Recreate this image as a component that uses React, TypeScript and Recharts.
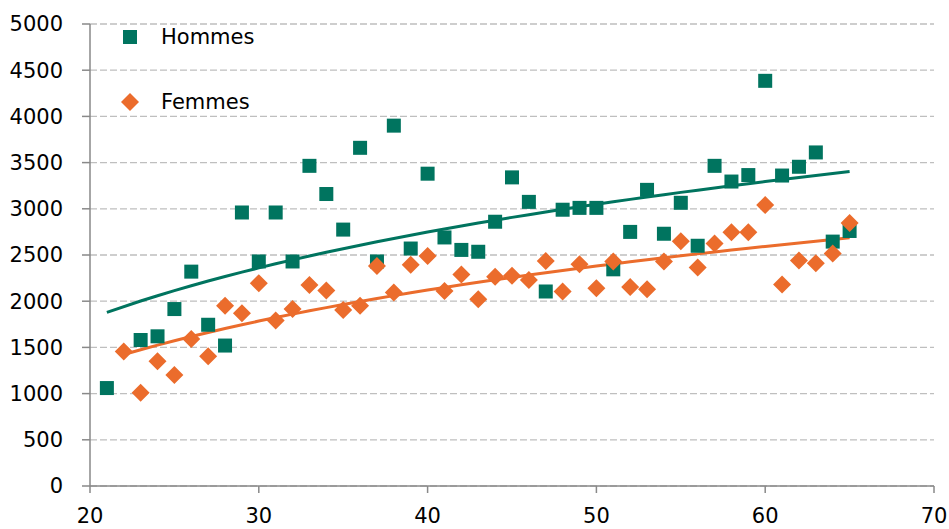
import { ScatterChart, Scatter, XAxis, YAxis, CartesianGrid } from 'recharts';

const AGES_H = [21, 23, 24, 25, 26, 27, 28, 29, 30, 31, 32, 33, 34, 35, 36, 37, 38, 39, 40, 41, 42, 43, 44, 45, 46, 47, 48, 49, 50, 51, 52, 53, 54, 55, 56, 57, 58, 59, 60, 61, 62, 63, 64, 65];
const HOMMES = [1060, 1580, 1620, 1915, 2320, 1745, 1520, 2960, 2430, 2960, 2430, 3465, 3160, 2775, 3660, 2430, 3900, 2570, 3380, 2690, 2555, 2535, 2860, 3340, 3075, 2105, 2990, 3010, 3010, 2345, 2750, 3205, 2730, 3065, 2600, 3465, 3295, 3365, 4385, 3360, 3455, 3610, 2645, 2760];

const AGES_F = [22, 23, 24, 25, 26, 27, 28, 29, 30, 31, 32, 33, 34, 35, 36, 37, 38, 39, 40, 41, 42, 43, 44, 45, 46, 47, 48, 49, 50, 51, 52, 53, 54, 55, 56, 57, 58, 59, 60, 61, 62, 63, 64, 65];
const FEMMES = [1455, 1010, 1350, 1200, 1590, 1405, 1950, 1870, 2195, 1790, 1915, 2175, 2115, 1905, 1950, 2380, 2095, 2395, 2490, 2110, 2290, 2020, 2265, 2275, 2230, 2435, 2105, 2400, 2140, 2430, 2155, 2130, 2430, 2650, 2365, 2625, 2745, 2745, 3040, 2180, 2440, 2410, 2515, 2845];

const X_TICKS = [20, 30, 40, 50, 60, 70];
const Y_TICKS = [0, 500, 1000, 1500, 2000, 2500, 3000, 3500, 4000, 4500, 5000];

const TEAL = '#00745F';
const ORANGE = '#EB6C2C';
const FONT = 'DejaVu Sans';

// logarithmic trend (least squares on ln x), like the spreadsheet trendline
function logTrend(xs: number[], ys: number[]) {
  const lx = xs.map(Math.log);
  const n = xs.length;
  const mx = lx.reduce((s, v) => s + v, 0) / n;
  const my = ys.reduce((s, v) => s + v, 0) / n;
  let sxy = 0;
  let sxx = 0;
  lx.forEach((v, i) => {
    sxy += (v - mx) * (ys[i] - my);
    sxx += (v - mx) * (v - mx);
  });
  const a = sxy / sxx;
  const b = my - a * mx;
  return xs.map((x) => ({ x, y: a * Math.log(x) + b }));
}

const hommesData = AGES_H.map((x, i) => ({ x, y: HOMMES[i] }));
const femmesData = AGES_F.map((x, i) => ({ x, y: FEMMES[i] }));
const hommesTrend = logTrend(AGES_H, HOMMES);
const femmesTrend = logTrend(AGES_F, FEMMES);

const Square = (p: any) => <rect x={p.cx - 7} y={p.cy - 7} width={14} height={14} fill={TEAL} />;
const Diamond = (p: any) => (
  <polygon
    points={`${p.cx},${p.cy - 9} ${p.cx + 9},${p.cy} ${p.cx},${p.cy + 9} ${p.cx - 9},${p.cy}`}
    fill={ORANGE}
  />
);

// legend drawn over the plot, top left
const LegendBox = () => (
  <svg width={160} height={100} style={{ position: 'absolute', left: 120, top: 24 }}>
    <rect x={3} y={6} width={14} height={14} fill={TEAL} />
    <text x={41} y={13} dy="0.355em" fontSize={21} fontFamily={FONT} fill="#000">Hommes</text>
    <polygon points="10,69 19,78 10,87 1,78" fill={ORANGE} />
    <text x={41} y={78} dy="0.355em" fontSize={21} fontFamily={FONT} fill="#000">Femmes</text>
  </svg>
);

export default function App() {
  return (
    <div style={{ position: 'absolute', left: 0, top: 0, width: 949, height: 529 }}>
      <ScatterChart width={949} height={529} margin={{ top: 24, right: 15, bottom: 0, left: 0 }}>
        <CartesianGrid vertical={false} stroke="#BFBFBF" strokeDasharray="7 3" strokeWidth={1.3} />
        <XAxis
          type="number"
          dataKey="x"
          domain={[20, 70]}
          ticks={X_TICKS}
          height={43}
          tickSize={7}
          tickMargin={15}
          stroke="#898989"
          strokeWidth={1.5}
          tick={{ fontSize: 21, fill: '#000', fontFamily: FONT }}
        />
        <YAxis
          type="number"
          dataKey="y"
          domain={[0, 5000]}
          ticks={Y_TICKS}
          width={90}
          tickSize={8}
          tickMargin={19}
          stroke="#898989"
          strokeWidth={1.5}
          tick={{ fontSize: 21, fill: '#000', fontFamily: FONT }}
        />
        <Scatter data={hommesTrend} line={{ stroke: TEAL, strokeWidth: 3 }} shape={() => <g />} isAnimationActive={false} legendType="none" />
        <Scatter data={femmesTrend} line={{ stroke: ORANGE, strokeWidth: 3 }} shape={() => <g />} isAnimationActive={false} legendType="none" />
        <Scatter name="Hommes" data={hommesData} shape={Square} isAnimationActive={false} />
        <Scatter name="Femmes" data={femmesData} shape={Diamond} isAnimationActive={false} />
      </ScatterChart>
      <LegendBox />
    </div>
  );
}
